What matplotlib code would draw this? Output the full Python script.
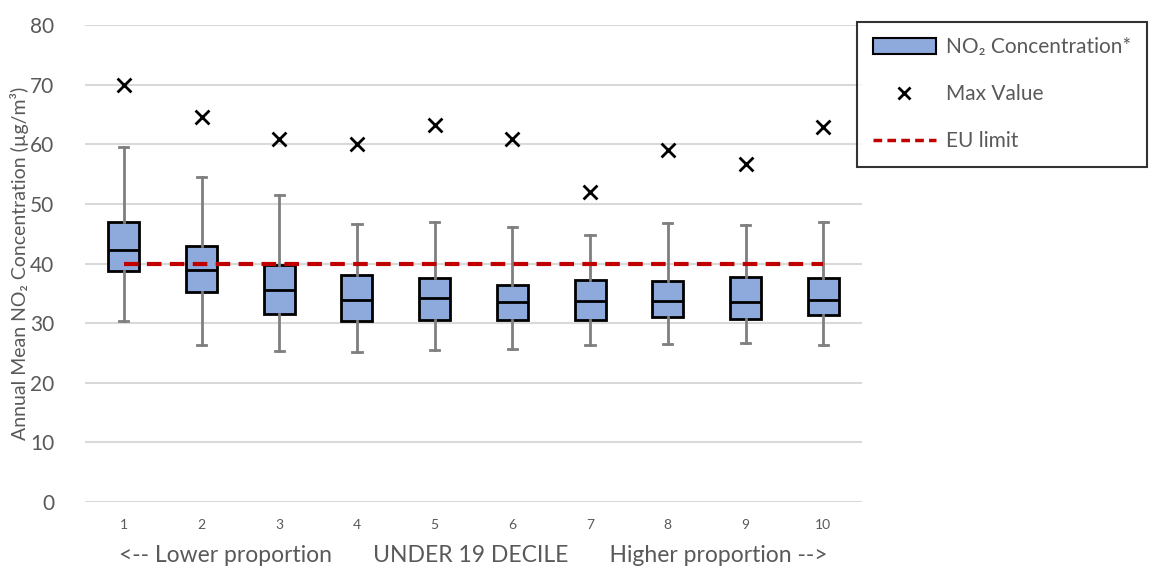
import matplotlib.pyplot as plt
import matplotlib.patches as mpatches
import matplotlib.lines as mlines

plt.rcParams['font.family'] = ['Lato', 'DejaVu Sans']

deciles = [1, 2, 3, 4, 5, 6, 7, 8, 9, 10]
whisker_low = [30.3, 26.3, 25.3, 25.2, 25.5, 25.7, 26.3, 26.5, 26.7, 26.3]
q1 = [38.7, 35.2, 31.5, 30.3, 30.5, 30.5, 30.5, 31.1, 30.7, 31.3]
median = [42.3, 38.9, 35.5, 33.9, 34.2, 33.5, 33.7, 33.7, 33.5, 33.9]
q3 = [47.0, 42.9, 39.8, 38.0, 37.5, 36.4, 37.3, 37.1, 37.7, 37.5]
whisker_high = [59.6, 54.5, 51.5, 46.6, 47.0, 46.2, 44.7, 46.8, 46.4, 47.0]
max_value = [69.9, 64.5, 60.9, 60.0, 63.3, 60.9, 52.0, 59.0, 56.7, 62.9]
eu_limit = 40

box_color = '#8EA9DB'
grey = '#595959'

stats = []
for i in range(len(deciles)):
    stats.append({'whislo': whisker_low[i], 'q1': q1[i], 'med': median[i],
                  'q3': q3[i], 'whishi': whisker_high[i], 'fliers': []})

fig = plt.figure(figsize=(11.51, 5.70), dpi=100)
ax = fig.add_axes([0.0738, 0.1193, 0.6752, 0.8368])

ax.bxp(stats, positions=deciles, widths=0.4, patch_artist=True, showfliers=False,
       boxprops=dict(facecolor=box_color, edgecolor='black', linewidth=2),
       medianprops=dict(color='black', linewidth=2),
       whiskerprops=dict(color='#7F7F7F', linewidth=2),
       capprops=dict(color='#7F7F7F', linewidth=2), capwidths=0.12, zorder=3)

ax.scatter(deciles, max_value, marker='x', s=100, color='black', linewidths=2, zorder=4)
ax.plot([deciles[0], deciles[-1]], [eu_limit, eu_limit], color='#C00000',
        linestyle=(0, (3.5, 2)), linewidth=3, zorder=5)

ax.set_xlim(0.5, 10.5)
ax.set_ylim(0, 80)
ax.set_yticks(range(0, 81, 10))
ax.set_xticks(deciles)
ax.set_xticklabels([str(d) for d in deciles])
ax.grid(True, axis='y', color='#D9D9D9', linewidth=1.5, zorder=0)
ax.set_axisbelow(True)
for s in ax.spines.values():
    s.set_visible(False)
ax.tick_params(axis='both', length=0)
ax.tick_params(axis='y', labelsize=15, labelcolor=grey, pad=22)
ax.tick_params(axis='x', labelsize=10, labelcolor=grey, pad=12)

ax.set_ylabel('Annual Mean NO₂ Concentration (µg/m³)', fontsize=14, color=grey)
ax.set_xlabel('<-- Lower proportion       UNDER 19 DECILE       Higher proportion -->',
              fontsize=16.5, color=grey, labelpad=10)
ax.yaxis.set_label_coords(-0.072, 0.5)

h_box = mpatches.Patch(facecolor=box_color, edgecolor='black', linewidth=1.5)
h_max = mlines.Line2D([], [], marker='x', color='black', linestyle='none',
                      markersize=9, markeredgewidth=2)
h_eu = mlines.Line2D([], [], color='#C00000', linestyle=(0, (2.5, 1.5)), linewidth=2.5)
leg = fig.legend([h_box, h_max, h_eu], ['NO₂ Concentration*', 'Max Value', 'EU limit'],
                 loc='upper left', bbox_to_anchor=(0.745, 0.962), fontsize=15,
                 frameon=True, fancybox=False, edgecolor='black', handlelength=3,
                 handleheight=0.8, labelspacing=1.3, borderpad=0.75, handletextpad=0.5,
                 borderaxespad=0, labelcolor=grey)
leg.get_frame().set_linewidth(1.5)

plt.savefig('out.png', dpi=100)
